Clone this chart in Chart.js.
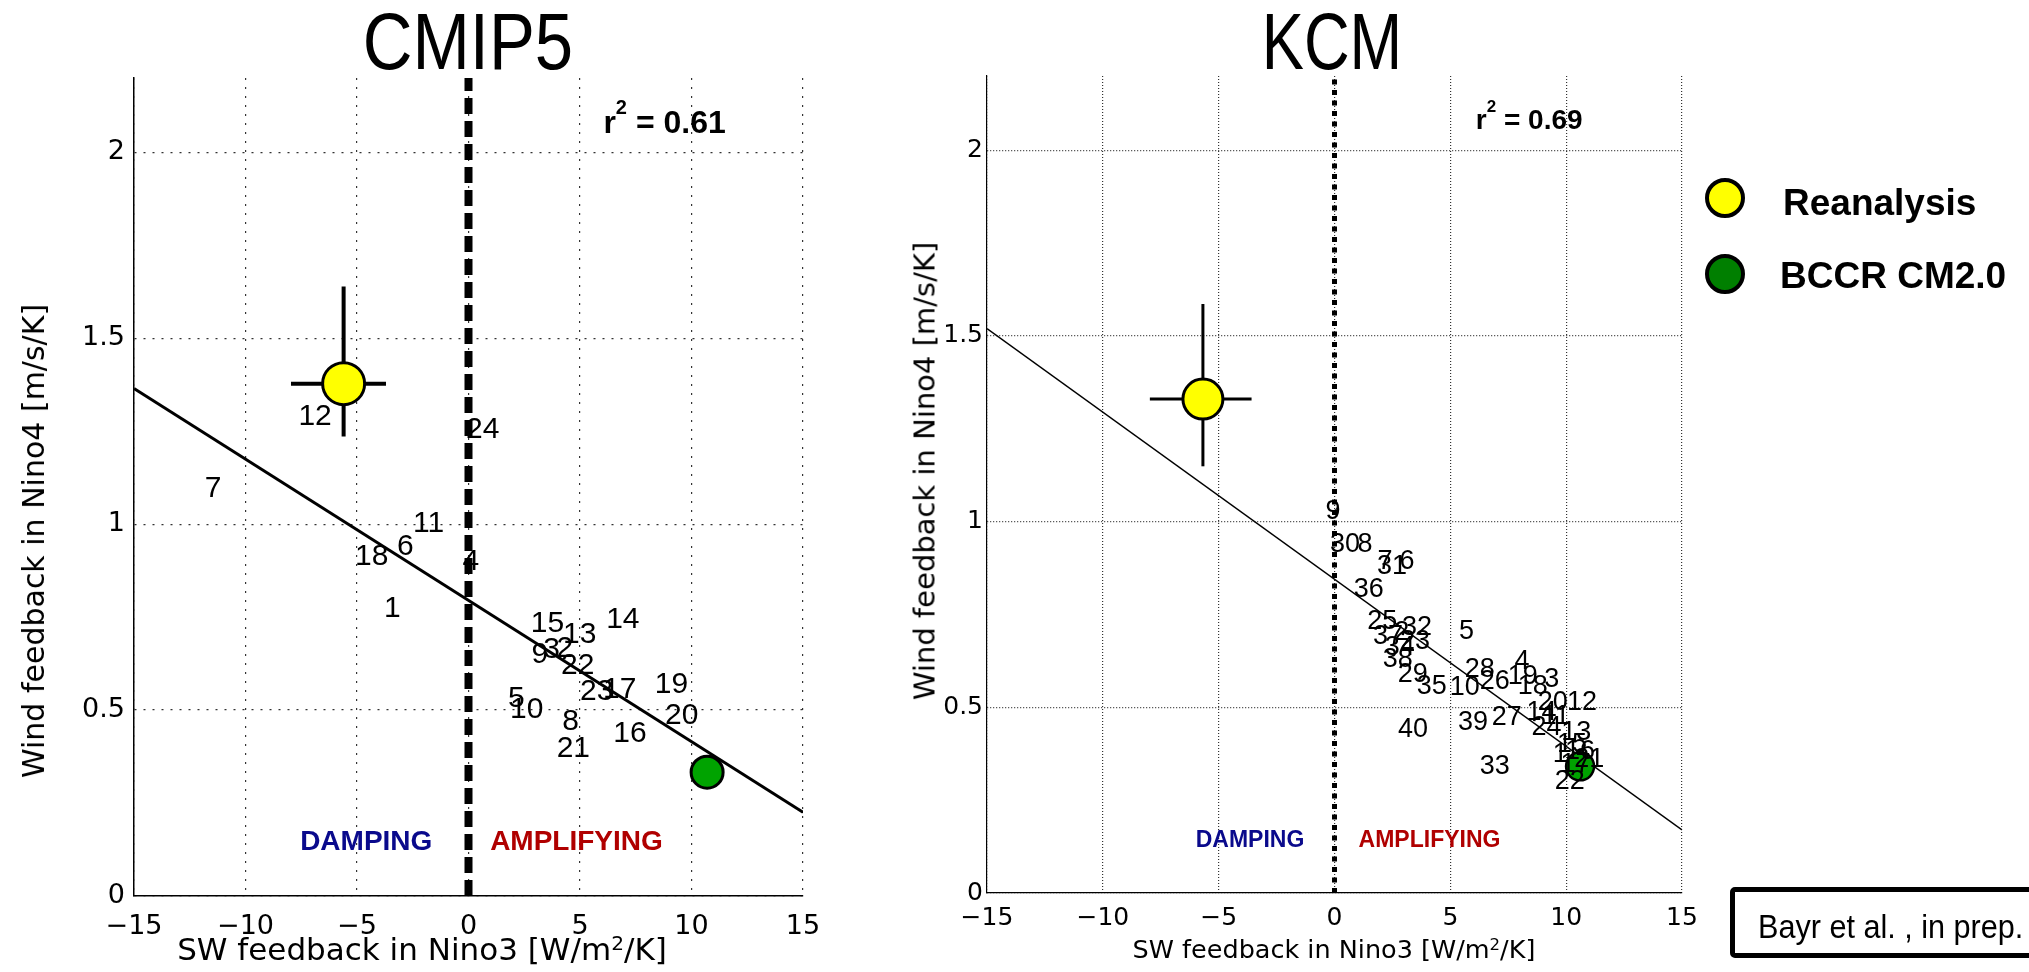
<!DOCTYPE html>
<html>
<head>
<meta charset="utf-8">
<script src="https://cdn.jsdelivr.net/npm/chart.js@4.4.1/dist/chart.umd.min.js"></script>
<style>
  html, body { margin: 0; padding: 0; background: #fff; }
  body { width: 2029px; height: 972px; position: relative; overflow: hidden; font-family: "Liberation Sans", Arial, sans-serif; }
  canvas { position: absolute; top: 0; }
  .txt { position: absolute; white-space: nowrap; color: #000; }
  .sup { position: relative; top: -0.5em; font-size: 0.65em; }
  .title { font-size: 80px; line-height: 80px; top: 2px; }
  .axt { font-family: "DejaVu Sans", sans-serif; }
  .dot { position: absolute; width: 40px; height: 40px; box-sizing: border-box; border: 4px solid #000; border-radius: 50%; }
  .leg { font-weight: bold; font-size: 37px; line-height: 37px; }
</style>
</head>
<body>
<canvas id="cmip" width="900" height="972" style="left:0px"></canvas>
<canvas id="kcm" width="900" height="972" style="left:860px"></canvas>

<div class="txt title" style="left:468px; transform: translateX(-50%) scaleX(.86)">CMIP5</div>
<div class="txt title" style="left:1332px; transform: translateX(-50%) scaleX(.79)">KCM</div>

<div class="txt axt" style="font-size:31px; line-height:31px; left:422px; top:934px; transform: translateX(-50%)">SW feedback in Nino3 [W/m<span class="sup">2</span>/K]</div>
<div class="txt axt" style="font-size:30px; line-height:30px; left:34px; top:541px; transform: translate(-50%,-50%) rotate(-90deg)">Wind feedback in Nino4 [m/s/K]</div>
<div class="txt axt" style="font-size:25.5px; line-height:26px; left:1334px; top:936px; transform: translateX(-50%)">SW feedback in Nino3 [W/m<span class="sup">2</span>/K]</div>
<div class="txt axt" style="font-size:29px; line-height:29px; left:925px; top:471px; transform: translate(-50%,-50%) rotate(-90deg)">Wind feedback in Nino4 [m/s/K]</div>

<div class="dot" style="left:1705px; top:178px; background:#ffff00"></div>
<div class="txt leg" style="left:1783px; top:184px">Reanalysis</div>
<div class="dot" style="left:1705px; top:254px; background:#007f00"></div>
<div class="txt leg" style="left:1780px; top:257px">BCCR CM2.0</div>

<div style="position:absolute; left:1730px; top:887px; width:320px; height:71px; box-sizing:border-box; border:5px solid #000; border-radius:5px"></div>
<div class="txt" style="left:1758px; top:909px; font-size:34px; line-height:34px; transform-origin: left center; transform: scaleX(.9)">Bayr et al. , in prep.</div>

<script>
// ---- CMIP5 panel ----
const cmipTicksX = [-15, -10, -5, 0, 5, 10, 15];
const cmipTicksY = [0, 0.5, 1, 1.5, 2];
const cmipFitX = [-15, 15];
const cmipFitY = [1.365, 0.225];
const cmipReaX = -5.6, cmipReaY = 1.378;
const cmipReaErrX = [-7.96, -3.7];
const cmipReaErrY = [1.236, 1.639];
const cmipBccrX = 10.7, cmipBccrY = 0.333;
const cmipModels = ['12','24','7','11','6','18','4','1','15','14','13','9','3','2','22','23','17','19','20','5','10','8','21','16'];
const cmipModelX = [-6.88, 0.64, -11.45, -1.79, -2.83, -4.34, 0.1, -3.41, 3.54, 6.92, 4.99, 3.2, 3.73, 4.32, 4.9, 5.75, 6.78, 9.1, 9.56, 2.15, 2.61, 4.58, 4.7, 7.24];
const cmipModelY = [1.289, 1.254, 1.096, 1.002, 0.939, 0.912, 0.899, 0.773, 0.733, 0.742, 0.704, 0.648, 0.661, 0.666, 0.618, 0.549, 0.554, 0.567, 0.486, 0.531, 0.5, 0.468, 0.396, 0.437];
const cmipR2 = '0.61';

// ---- KCM panel ----
const kcmTicksX = [-15, -10, -5, 0, 5, 10, 15];
const kcmTicksY = [0, 0.5, 1, 1.5, 2];
const kcmFitX = [-15, 15];
const kcmFitY = [1.52, 0.17];
const kcmReaX = -5.68, kcmReaY = 1.33;
const kcmReaErrX = [-7.97, -3.58];
const kcmReaErrY = [1.149, 1.586];
const kcmBccrX = 10.6, kcmBccrY = 0.341;
const kcmModels = ['9','30','8','7','31','6','36','25','37','2','32','34','23','38','29','35','5','10','28','26','4','19','18','3','20','12','27','14','11','24','39','40','33','13','1','15','16','17','21','22'];
const kcmModelX = [-0.06, 0.45, 1.32, 2.18, 2.48, 3.13, 1.48, 2.06, 2.31, 2.9, 3.56, 2.82, 3.48, 2.73, 3.38, 4.2, 5.7, 5.62, 6.27, 6.92, 8.09, 8.13, 8.56, 9.38, 9.42, 10.68, 7.44, 8.94, 9.55, 9.15, 5.98, 3.39, 6.92, 10.44, 9.75, 10.25, 10.6, 10.4, 11.0, 10.15];
const kcmModelY = [1.027, 0.939, 0.939, 0.893, 0.879, 0.893, 0.817, 0.731, 0.690, 0.70, 0.715, 0.661, 0.677, 0.628, 0.588, 0.556, 0.704, 0.553, 0.601, 0.569, 0.623, 0.583, 0.556, 0.574, 0.512, 0.512, 0.472, 0.485, 0.474, 0.445, 0.458, 0.440, 0.340, 0.431, 0.372, 0.40, 0.38, 0.345, 0.36, 0.299];
const kcmR2 = '0.69';

const yTop = 2.2;

function fmt(v) {
    return v < 0 ? '\u2212' + Math.abs(v) : String(v);
}

function pts(xs, ys) {
    return xs.map((x, i) => ({ x: x, y: ys[i] }));
}

// labels, r^2 and damping/amplifying text, placed with the chart scales
function textPlugin(p) {
    return {
        id: 'texts',
        afterDatasetsDraw(chart) {
            const { ctx, scales: { x, y } } = chart;
            ctx.save();
            ctx.fillStyle = '#000';
            ctx.font = p.numFont;
            ctx.textAlign = 'center';
            ctx.textBaseline = 'middle';
            p.names.forEach((n, i) => {
                ctx.fillText(n, x.getPixelForValue(p.xs[i]), y.getPixelForValue(p.ys[i]));
            });

            // r^2 = ...
            ctx.textAlign = 'left';
            ctx.textBaseline = 'alphabetic';
            let px = x.getPixelForValue(p.r2At[0]);
            const py = y.getPixelForValue(p.r2At[1]);
            ctx.font = 'bold ' + p.r2Size + 'px "Liberation Sans"';
            ctx.fillText('r', px, py);
            px += ctx.measureText('r').width;
            ctx.font = 'bold ' + Math.round(p.r2Size * 0.62) + 'px "Liberation Sans"';
            ctx.fillText('2', px, py - p.r2Size * 0.58);
            px += ctx.measureText('2').width;
            ctx.font = 'bold ' + p.r2Size + 'px "Liberation Sans"';
            ctx.fillText(' = ' + p.r2, px, py);

            ctx.font = 'bold ' + p.regSize + 'px "Liberation Sans"';
            ctx.fillStyle = '#0a0a8c';
            ctx.fillText('DAMPING', x.getPixelForValue(p.dampX), y.getPixelForValue(p.regY));
            ctx.fillStyle = '#b00000';
            ctx.fillText('AMPLIFYING', x.getPixelForValue(p.ampX), y.getPixelForValue(p.regY));
            ctx.restore();
        }
    };
}

function makeChart(id, d) {
    const ctx = document.getElementById(id).getContext('2d');
    return new Chart(ctx, {
        type: 'scatter',
        data: {
            datasets: [
                { data: [{ x: d.reaX, y: d.reaY }], pointRadius: d.reaR, pointBackgroundColor: '#ffff00', pointBorderColor: '#000', pointBorderWidth: 3, order: 0 },
                { data: [{ x: d.bccrX, y: d.bccrY }], pointRadius: d.bccrR, pointBackgroundColor: '#00a300', pointBorderColor: '#000', pointBorderWidth: d.bccrB, order: 0 },
                { data: pts(d.errX, [d.reaY, d.reaY]), showLine: true, borderColor: '#000', borderWidth: d.errW, pointRadius: 0, order: 1 },
                { data: pts([d.reaX, d.reaX], d.errY), showLine: true, borderColor: '#000', borderWidth: d.errW, pointRadius: 0, order: 1 },
                { data: pts(d.fitX, d.fitY), showLine: true, borderColor: '#000', borderWidth: d.fitW, pointRadius: 0, order: 2 },
                { data: pts([0, 0], [0, yTop]), showLine: true, borderColor: '#000', borderWidth: d.zeroW, borderDash: d.zeroDash, pointRadius: 0, order: 3 }
            ]
        },
        options: {
            responsive: false,
            animation: false,
            events: [],
            layout: { padding: { left: 0, top: d.top, right: d.right, bottom: 0 } },
            plugins: { legend: { display: false }, tooltip: { enabled: false } },
            scales: {
                x: {
                    type: 'linear', min: -15, max: 15,
                    afterBuildTicks: s => { s.ticks = d.ticksX.map(v => ({ value: v })); },
                    afterFit: s => { s.height = d.xH; },
                    ticks: { font: { family: 'DejaVu Sans', size: d.tickSize }, color: '#000', padding: d.xPad, maxRotation: 0, autoSkip: false, callback: v => fmt(v) },
                    grid: { color: '#333', lineWidth: 1.2, drawTicks: false },
                    border: { color: '#000', width: d.axisW, dash: d.gridDash }
                },
                y: {
                    type: 'linear', min: 0, max: yTop,
                    afterBuildTicks: s => { s.ticks = d.ticksY.map(v => ({ value: v })); },
                    afterFit: s => { s.width = d.yW; },
                    ticks: { font: { family: 'DejaVu Sans', size: d.tickSize }, color: '#000', padding: d.yPad, autoSkip: false, callback: v => fmt(v) },
                    grid: { color: '#333', lineWidth: 1.2, drawTicks: false },
                    border: { color: '#000', width: d.axisW, dash: d.gridDash }
                }
            }
        },
        plugins: [textPlugin(d.text)]
    });
}

makeChart('cmip', {
    ticksX: cmipTicksX, ticksY: cmipTicksY, fitX: cmipFitX, fitY: cmipFitY,
    reaX: cmipReaX, reaY: cmipReaY, errX: cmipReaErrX, errY: cmipReaErrY,
    bccrX: cmipBccrX, bccrY: cmipBccrY,
    reaR: 21, bccrR: 16, bccrB: 3, errW: 4, fitW: 3, zeroW: 8, zeroDash: [16, 7],
    top: 78, right: 97, xH: 76, yW: 134, tickSize: 27, xPad: 15, yPad: 9, axisW: 1.5, gridDash: [2, 7],
    text: { names: cmipModels, xs: cmipModelX, ys: cmipModelY, numFont: '30px "Liberation Sans"',
            r2: cmipR2, r2At: [6.05, 2.052], r2Size: 32, regSize: 28, dampX: -7.55, ampX: 0.97, regY: 0.123 }
});

makeChart('kcm', {
    ticksX: kcmTicksX, ticksY: kcmTicksY, fitX: kcmFitX, fitY: kcmFitY,
    reaX: kcmReaX, reaY: kcmReaY, errX: kcmReaErrX, errY: kcmReaErrY,
    bccrX: kcmBccrX, bccrY: kcmBccrY,
    reaR: 20, bccrR: 14, bccrB: 2.5, errW: 3, fitW: 1.4, zeroW: 5, zeroDash: [5, 5.5],
    top: 76, right: 78, xH: 79, yW: 127, tickSize: 25, xPad: 10, yPad: 4, axisW: 1.2, gridDash: [1, 2],
    text: { names: kcmModels, xs: kcmModelX, ys: kcmModelY, numFont: '27px "Liberation Sans"',
            r2: kcmR2, r2At: [6.1, 2.058], r2Size: 28, regSize: 23, dampX: -5.99, ampX: 1.04, regY: 0.124 }
});
</script>
</body>
</html>
